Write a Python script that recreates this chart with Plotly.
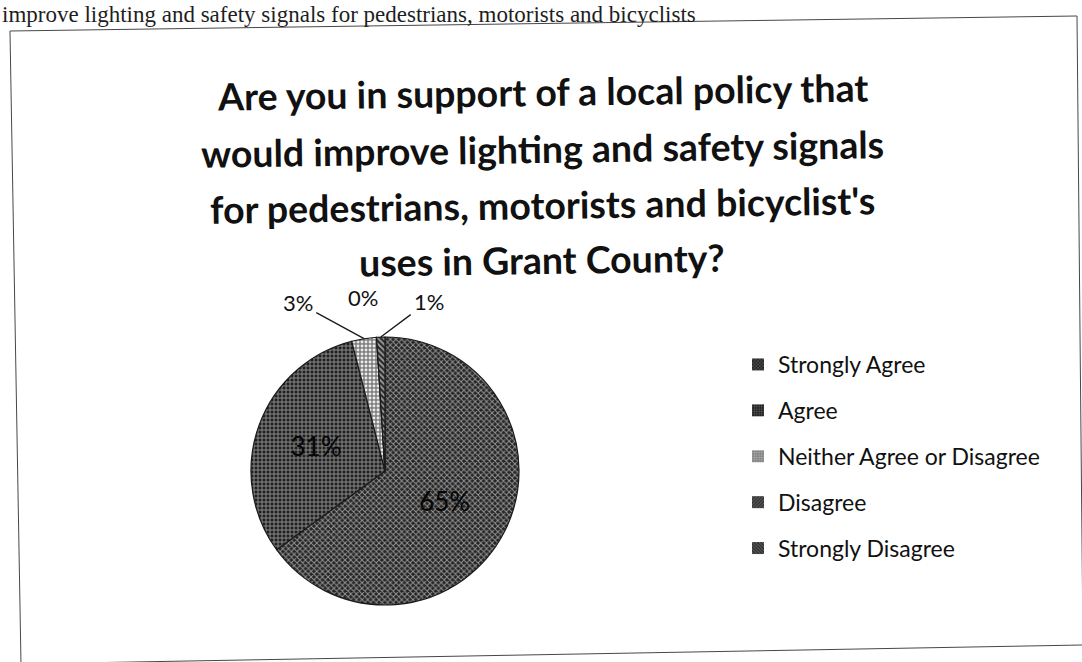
import math
import plotly.graph_objects as go

W, H = 1082, 662

# ---- data -------------------------------------------------------------
categories = [
    "Strongly Agree",
    "Agree",
    "Neither Agree or Disagree",
    "Disagree",
    "Strongly Disagree",
]
shares = [65, 31, 3, 0, 1]

title_lines = [
    "Are you in support of a local policy that",
    "would improve lighting and safety signals",
    "for pedestrians, motorists and bicyclist's",
    "uses in Grant County?",
]
page_text = "improve lighting and safety signals for pedestrians, motorists and bicyclists"

# ---- styling ------------------------------------------------------------
slice_bg = ["#242424", "#202020", "#7e7e7e", "#2e2e2e", "#2a2a2a"]
slice_fg = ["#959595", "#8e8e8e", "#eaeaea", "#a0a0a0", "#a4a4a4"]
slice_shape = ["x", "+", ".", "/", "\\"]

BODY_FONT = "Lato"


def paper_x(px):
    return px / W


def paper_y(py):
    return 1 - py / H


# pie geometry (pixels)
PIE_CX, PIE_CY, PIE_R = 385, 471, 134
pie_domain = dict(
    x=[paper_x(PIE_CX - PIE_R), paper_x(PIE_CX + PIE_R)],
    y=[paper_y(PIE_CY + PIE_R), paper_y(PIE_CY - PIE_R)],
)

fig = go.Figure()

fig.add_trace(go.Pie(
    labels=categories,
    values=shares,
    sort=False,
    direction="clockwise",
    rotation=0,
    domain=pie_domain,
    showlegend=False,
    marker=dict(
        colors=slice_bg,
        line=dict(color="#1a1a1a", width=1.2),
        pattern=dict(shape=slice_shape, fgcolor=slice_fg, bgcolor=slice_bg,
                     size=4, solidity=0.42),
    ),
    texttemplate="%{percent:.0%}",
    textposition=["inside", "inside", "none", "none", "none"],
    insidetextorientation="horizontal",
    insidetextfont=dict(family=BODY_FONT, size=26, color="#050505"),
    hoverinfo="label+percent",
))

# legend entries (one per category, spaced like the original sheet)
for i, name in enumerate(categories):
    fig.add_trace(go.Bar(
        x=[None], y=[None], name=name, legendgroup=name, showlegend=True,
        marker=dict(color=slice_bg[i], line=dict(width=0),
                    pattern=dict(shape=slice_shape[i], fgcolor=slice_fg[i],
                                 bgcolor=slice_bg[i], size=3, solidity=0.4)),
        hoverinfo="skip",
    ))

annotations = []

# title, one line at a time
title_y = [91, 148, 205, 259]
for line, ty in zip(title_lines, title_y):
    annotations.append(dict(
        text=line, x=paper_x(542), y=paper_y(ty), xref="paper", yref="paper",
        xanchor="center", yanchor="middle", showarrow=False, textangle=-0.8,
        font=dict(family=BODY_FONT, size=37.5, color="#111111", weight=700),
    ))

# running text of the page above the chart frame
annotations.append(dict(
    text=page_text, x=0, y=1, xref="paper", yref="paper",
    xanchor="left", yanchor="top", showarrow=False,
    font=dict(family="Liberation Serif", size=23, color="#1e1e1e"),
))

# outside labels for the thin slices, anchored on the rim at each slice's mid-angle
total = sum(shares)
label_offsets = {2: (-66, -36, True), 3: (-14, -40, False), 4: (48, -36, True)}
cum = 0
for i, v in enumerate(shares):
    start = cum
    cum += v
    if i not in label_offsets:
        continue
    mid = math.radians((start + cum) / 2 / total * 360)
    rx = PIE_CX + PIE_R * math.sin(mid)
    ry = PIE_CY - PIE_R * math.cos(mid)
    dx, dy, arrow = label_offsets[i]
    txt = f"{round(v / total * 100)}%"
    ann = dict(text=txt, x=paper_x(rx), y=paper_y(ry), xref="paper", yref="paper",
               font=dict(family=BODY_FONT, size=22, color="#111111"))
    if arrow:
        ann.update(showarrow=True, ax=dx, ay=dy, arrowhead=0, arrowwidth=1.3,
                   arrowcolor="#1a1a1a", standoff=0, startstandoff=2)
    else:
        ann.update(showarrow=False, xshift=dx, yshift=-dy, yanchor="middle")
    annotations.append(ann)

# chart frame (slightly skewed, as on the sheet)
frame = [(10, 31), (1077, 16), (1083, 645), (21, 664)]
frame_path = "M " + " L ".join(f"{paper_x(x):.5f},{paper_y(y):.5f}" for x, y in frame) + " Z"

fig.update_layout(
    width=W, height=H,
    margin=dict(l=0, r=0, t=0, b=0),
    paper_bgcolor="white", plot_bgcolor="white",
    xaxis=dict(visible=False, domain=[0.9, 1]),
    yaxis=dict(visible=False, domain=[0.9, 1]),
    annotations=annotations,
    shapes=[dict(type="path", path=frame_path, xref="paper", yref="paper",
                 line=dict(color="#474747", width=1))],
    legend=dict(
        x=paper_x(738), y=paper_y(343), xanchor="left", yanchor="top",
        font=dict(family=BODY_FONT, size=23, color="#111111"),
        tracegroupgap=13, bgcolor="rgba(0,0,0,0)",
    ),
    showlegend=True,
)

fig.write_html("out.html")
